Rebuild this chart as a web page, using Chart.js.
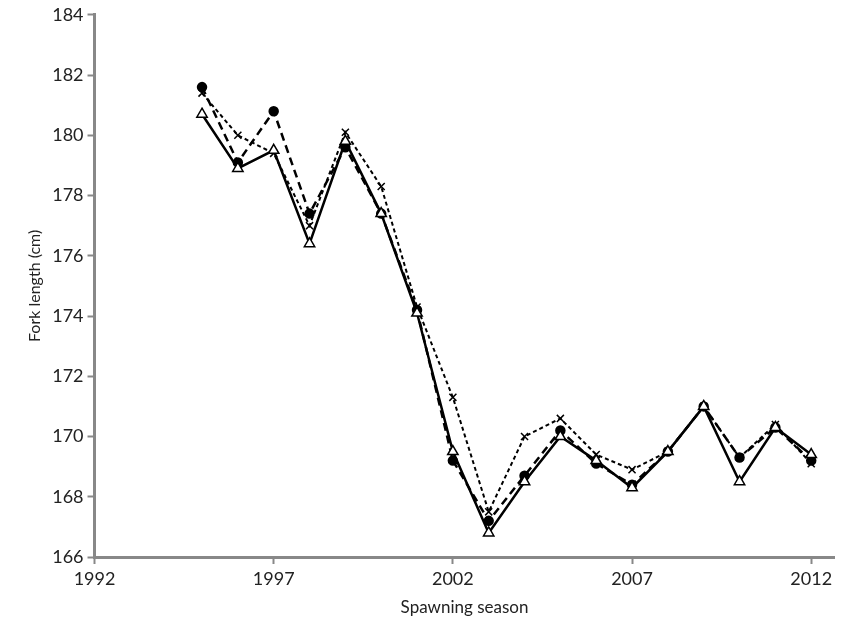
<!DOCTYPE html>
<html><head><script src="https://cdn.jsdelivr.net/npm/chart.js@4"></script>
<style>body{margin:0;background:#fff}#w{width:842px;height:640px}</style></head>
<body><div id="w"><canvas id="c"></canvas></div>
<script>
const years=[1995,1996,1997,1998,1999,2000,2001,2002,2003,2004,2005,2006,2007,2008,2009,2010,2011,2012];
const triSeries=[180.7,178.9,179.5,176.4,179.8,177.4,174.1,169.5,166.8,168.5,170.0,169.2,168.3,169.5,171.0,168.5,170.3,169.4];
const circSeries=[181.6,179.1,180.8,177.4,179.6,177.4,174.2,169.2,167.2,168.7,170.2,169.1,168.4,169.5,171.0,169.3,170.3,169.2];
const crossSeries=[181.4,180.0,179.4,177.0,180.1,178.3,174.3,171.3,167.5,170.0,170.6,169.4,168.9,169.5,171.0,169.3,170.4,169.1];
const xTicks=[1992,1997,2002,2007,2012];
const pts=a=>a.map((v,i)=>({x:years[i],y:v}));
new Chart(document.getElementById('c'),{type:'line',
data:{datasets:[
{data:pts(triSeries),borderColor:'#000',borderWidth:2.5,pointStyle:'triangle',pointRadius:6,pointBackgroundColor:'#fff',pointBorderColor:'#000',pointBorderWidth:1.5,tension:0},
{data:pts(circSeries),borderColor:'#000',borderWidth:2.5,borderDash:[8,5],pointStyle:'circle',pointRadius:4,pointBackgroundColor:'#000',pointBorderColor:'#000',tension:0},
{data:pts(crossSeries),borderColor:'#000',borderWidth:2,borderDash:[4,3],pointStyle:'crossRot',pointRadius:5,pointBorderColor:'#000',pointBorderWidth:1.5,tension:0}
]},
options:{animation:false,responsive:true,maintainAspectRatio:false,
layout:{padding:{top:8,right:0,left:21,bottom:18}},
plugins:{legend:{display:false},tooltip:{enabled:false}},
scales:{
x:{type:'linear',min:1992,max:2012.65,afterBuildTicks:s=>{s.ticks=xTicks.map(v=>({value:v}));},
 grid:{display:true,drawOnChartArea:false,drawTicks:true,tickLength:7,tickColor:'#888',tickWidth:2},border:{color:'#888',width:3},
 ticks:{color:'#222',font:{size:18,family:'Lato'},padding:4,callback:v=>String(v)},
 title:{display:true,text:'Spawning season',color:'#222',font:{size:17,family:'Lato'},padding:{top:4}}},
y:{min:166,max:184,afterBuildTicks:s=>{s.ticks=[];for(let v=166;v<=184;v+=2)s.ticks.push({value:v});},
 grid:{display:true,drawOnChartArea:false,drawTicks:true,tickLength:7,tickColor:'#888',tickWidth:2},border:{color:'#888',width:3},
 ticks:{color:'#222',font:{size:18,family:'Lato'},padding:4},
 title:{display:true,text:'Fork length (cm)',color:'#222',font:{size:16,family:'Lato'}}}
}}});
</script></body></html>
